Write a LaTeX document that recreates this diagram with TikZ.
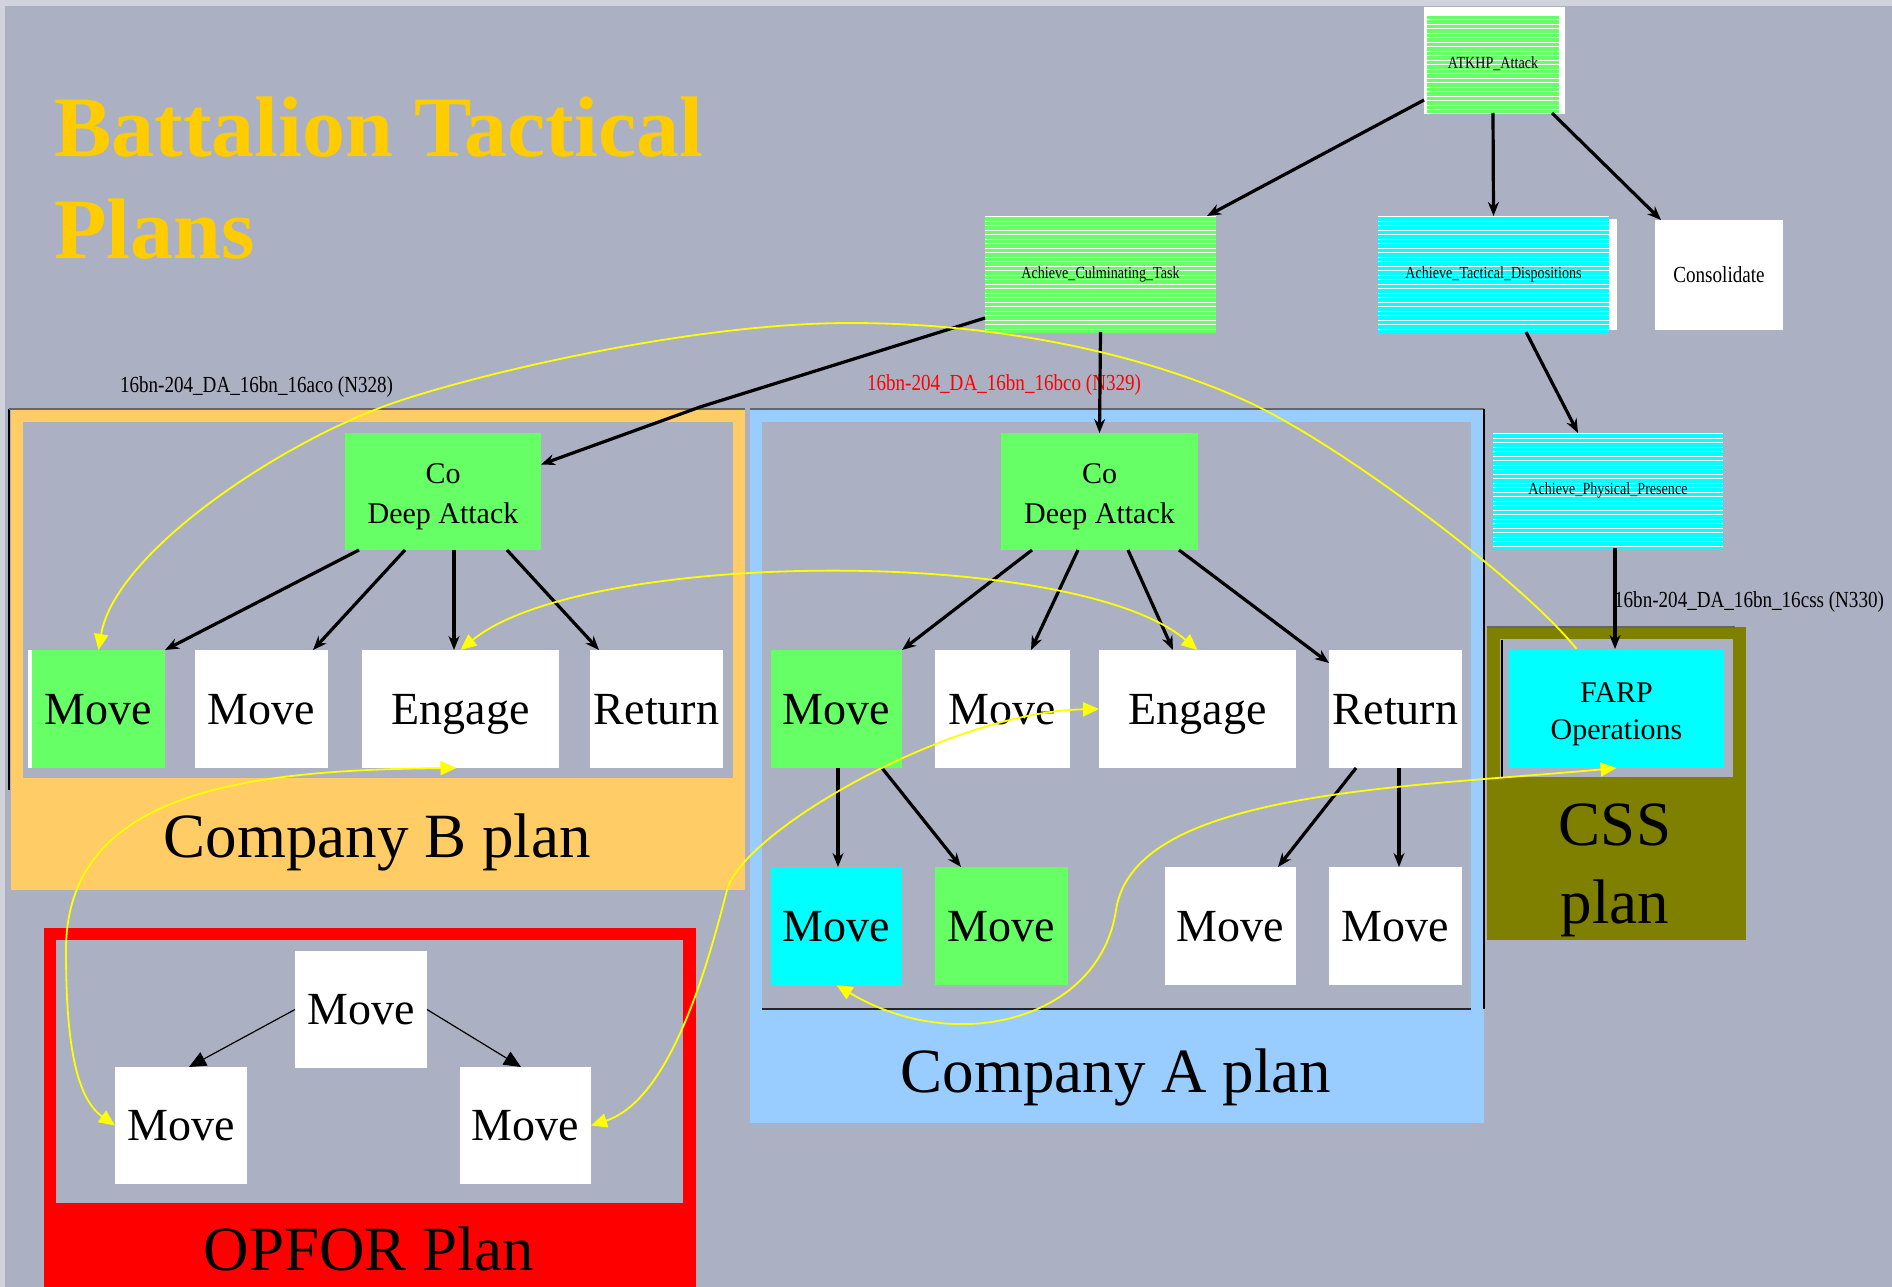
\documentclass[tikz,border=0pt]{standalone}
\usepackage{fontspec}
\setmainfont{Liberation Serif}
\newfontfamily\labfont[FakeStretch=0.83]{Liberation Serif}
\usetikzlibrary{arrows.meta,calc}
\definecolor{bg}{RGB}{171,177,194}
\definecolor{framec}{RGB}{208,211,220}
\definecolor{ngreen}{RGB}{102,255,102}
\definecolor{ncyan}{RGB}{0,255,255}
\definecolor{borange}{RGB}{255,204,102}
\definecolor{bblue}{RGB}{153,204,255}
\definecolor{colive}{RGB}{128,128,0}
\definecolor{gold}{RGB}{255,204,0}
\definecolor{ylw}{RGB}{255,255,0}
\definecolor{lred}{RGB}{255,0,0}
\begin{document}
\begin{tikzpicture}[x=1pt,y=-1pt,
  every node/.style={inner sep=0pt,outer sep=0pt},
  stripes/.style={path picture={
    \foreach \k in {0,...,27}{
      \fill[#1] ($(path picture bounding box.north west)+(0,\k*4.5+1.0)$) rectangle ($(path picture bounding box.north east)+(0,\k*4.5+4.5)$);
    }}},
  sbox/.style={rectangle,fill=white,stripes=#1,font=\labfont\fontsize{17}{17}\selectfont},
  big/.style={rectangle,fill=#1,minimum height=118pt,font=\fontsize{46}{54}\selectfont,text height=30pt,text depth=0pt},
  cobox/.style={rectangle,fill=ngreen,minimum width=197pt,minimum height=117pt,align=center,font=\fontsize{30}{40}\selectfont},
  plantext/.style={font=\fontsize{63}{74}\selectfont},
  lab/.style={font=\labfont\fontsize{23}{23}\selectfont},
  blk/.style={draw=black,line width=3.2pt,-{Stealth[length=14pt,width=11pt]}},
  thinblk/.style={draw=black,line width=1.2pt,-{Triangle[length=17pt,width=15pt]}},
  yel/.style={draw=ylw,line width=1.8pt},
  ytip/.tip={Triangle[length=16pt,width=14pt]}
]
\useasboundingbox (0,0) rectangle (1892,1287);
\fill[bg] (0,0) rectangle (1892,1287);
\fill[framec] (0,0) rectangle (1892,6);
\fill[framec] (0,0) rectangle (5,1287);

% title
\node[anchor=base west,text=gold,font=\bfseries\fontsize{86}{101}\selectfont] (title1) at (54,157) {Battalion Tactical};
\node[anchor=base west,text=gold,font=\bfseries\fontsize{86}{101}\selectfont] (title2) at (54,258) {Plans};

% clusters
\fill[borange] (11,410) rectangle (745,890);
\fill[bg] (23,422) rectangle (733,778);
\draw[black,line width=1.5pt] (9,790) -- (9,409);
\draw[black!60,line width=1.2pt] (9,409) -- (745,409);

\fill[bblue] (750,410) rectangle (1484,1123);
\fill[bg] (762,422) rectangle (1471,1009);
\draw[black!60,line width=1.2pt] (750,409) -- (1484,409);
\draw[black,line width=1.6pt] (1484,409) -- (1484,1009);
\draw[black!85,line width=2.5pt] (762,1009) -- (1471,1009);

\fill[colive] (1487,627) rectangle (1746,940);
\fill[bg] (1500,639) rectangle (1733,777);
\draw[black!60,line width=1.2pt] (1487,627) -- (1735,627);
\draw[black,line width=1.5pt] (1502,640) -- (1502,777);

\fill[lred] (44,928) rectangle (696,1287);
\fill[bg] (56,940) rectangle (683,1203);

\node[plantext,anchor=base] (lblB) at (377,857) {Company B plan};
\node[plantext,anchor=base] (lblA) at (1116,1092) {Company A plan};
\node[plantext,anchor=base] (lblO) at (369,1270) {OPFOR Plan};
\node[font=\fontsize{63}{78}\selectfont,align=center] (lblC) at (1615,870) {CSS\\plan};

% edge labels
\node[lab,anchor=base west] (n328) at (120,392) {16bn-204\_DA\_16bn\_16aco (N328)};
\node[lab,anchor=base west,text=lred] (n329) at (867,390) {16bn-204\_DA\_16bn\_16bco (N329)};
\node[lab,anchor=base east] (n330) at (1884,607) {16bn-204\_DA\_16bn\_16css (N330)};

% top tree
\fill[white] (1424,7) rectangle (1565,114);
\node[sbox=ngreen,minimum width=132pt,minimum height=98pt] (atk) at (1493,64) {ATKHP\_Attack};
\node[sbox=ngreen,minimum width=231pt,minimum height=116pt] (cul) at (1100.5,274) {Achieve\_Culminating\_Task};
\fill[white] (1378,219) rectangle (1617,330);
\node[sbox=ncyan,minimum width=231pt,minimum height=116pt] (tac) at (1493.5,274) {Achieve\_Tactical\_Dispositions};
\node[rectangle,fill=white,minimum width=128pt,minimum height=110pt,lab] (cons) at (1719,275) {Consolidate};
\node[sbox=ncyan,minimum width=230pt,minimum height=115pt] (phys) at (1608,490.5) {Achieve\_Physical\_Presence};
\node[rectangle,fill=ncyan,minimum width=215pt,minimum height=119pt,align=center,font=\fontsize{30}{37}\selectfont] (farp) at (1616.5,708.5) {\rule{0pt}{31pt}FARP\\Operations};

% company B
\node[cobox,minimum width=196pt] (coB) at (443,491.5) {\rule{0pt}{30pt}Co\\Deep Attack};
\fill[white] (28,650) rectangle (33,768);
\node[big=ngreen,minimum width=133pt] (mB1) at (98.5,709) {Move};
\node[big=white,minimum width=133pt] (mB2) at (261.5,709) {Move};
\node[big=white,minimum width=197pt] (eB) at (460.5,709) {Engage};
\node[big=white,minimum width=133pt] (rB) at (656.5,709) {Return};

% company A
\node[cobox] (coA) at (1099.5,491.5) {\rule{0pt}{30pt}Co\\Deep Attack};
\node[big=ngreen,minimum width=131pt] (mA1) at (836.5,709) {Move};
\node[big=white,minimum width=135pt] (mA2) at (1002.5,709) {Move};
\node[big=white,minimum width=197pt] (eA) at (1197.5,709) {Engage};
\node[big=white,minimum width=133pt] (rA) at (1395.5,709) {Return};
\node[big=ncyan,minimum width=131pt] (mA3) at (836.5,926) {Move};
\node[big=ngreen,minimum width=133pt] (mA4) at (1001.5,926) {Move};
\node[big=white,minimum width=131pt] (mA5) at (1230.5,926) {Move};
\node[big=white,minimum width=133pt] (mA6) at (1395.5,926) {Move};

% OPFOR
\node[big=white,minimum width=132pt,minimum height=117pt] (oT) at (361,1009.5) {Move};
\node[big=white,minimum width=132pt,minimum height=117pt] (oL) at (181,1125.5) {Move};
\node[big=white,minimum width=131pt,minimum height=117pt] (oR) at (525.5,1125.5) {Move};

% black edges
\draw[blk] ([xshift=-3pt,yshift=-36pt]atk.west) -- ([xshift=-9pt]cul.north east);
\draw[blk] (atk.south) -- (tac.north);
\draw[blk] ([xshift=-7pt]atk.south east) -- ([xshift=6pt]cons.north west);
\draw[blk] ([xshift=32.5pt]tac.south) -- ([xshift=-30pt]phys.north);
\draw[blk] ([xshift=7pt]phys.south) -- ([xshift=-1.5pt]farp.north);
\draw[blk] ([yshift=-44pt]cul.west) -- (700,407) -- ([yshift=27pt]coB.east);
\draw[blk] (cul.south) -- (coA.north);

\draw[blk] ([xshift=-84pt]coB.south) -- (mB1.north east);
\draw[blk] ([xshift=-38pt]coB.south) -- ([xshift=51.5pt]mB2.north);
\draw[blk] ([xshift=11pt]coB.south) -- ([xshift=-6.5pt]eB.north);
\draw[blk] ([xshift=64pt]coB.south) -- ([xshift=9pt]rB.north west);

\draw[blk] ([xshift=-67.5pt]coA.south) -- (mA1.north east);
\draw[blk] ([xshift=-21.5pt]coA.south) -- ([xshift=28.5pt]mA2.north);
\draw[blk] ([xshift=28.5pt]coA.south) -- ([xshift=-24.5pt]eA.north);
\draw[blk] ([xshift=79.5pt]coA.south) -- ([yshift=-13pt]rA.north west);
\draw[blk] ([xshift=1.5pt]mA1.south) -- ([xshift=1.5pt]mA3.north);
\draw[blk] ([xshift=45.5pt]mA1.south) -- ([xshift=-40.5pt]mA4.north);
\draw[blk] ([xshift=-39.5pt]rA.south) -- ([xshift=47.5pt]mA5.north);
\draw[blk] ([xshift=3.5pt]rA.south) -- ([xshift=3.5pt]mA6.north);

\draw[thinblk] (oT.west) -- ([xshift=8pt]oL.north);
\draw[thinblk] (oT.east) -- ([xshift=-4.5pt]oR.north);

% yellow links
\draw[yel,-ytip] ([xshift=-40pt]farp.north) .. controls (1527,586) and (1344,445) .. (1244,400)
   .. controls (1126,347) and (980,323) .. (850,323)
   .. controls (700,323) and (497,369) .. (402,400)
   .. controls (288,437) and (115,551) .. (mB1.north);
\draw[yel,ytip-ytip] (eB.north) .. controls (583,549) and (1075,546) .. (eA.north);
\draw[yel,ytip-ytip] ([xshift=-4pt]eB.south) .. controls (250,770) and (66,790) .. (66,950)
   .. controls (66,1030) and (73,1096) .. (oL.west);
\draw[yel,ytip-ytip] (oR.east) .. controls (670,1100) and (707,968) .. (727,890)
   .. controls (742,832) and (949,712) .. (eA.west);
\draw[yel,ytip-ytip] (mA3.south) .. controls (957,1057) and (1100,1019) .. (1116,910)
   .. controls (1134,791) and (1400,788) .. (farp.south);
\end{tikzpicture}
\end{document}
